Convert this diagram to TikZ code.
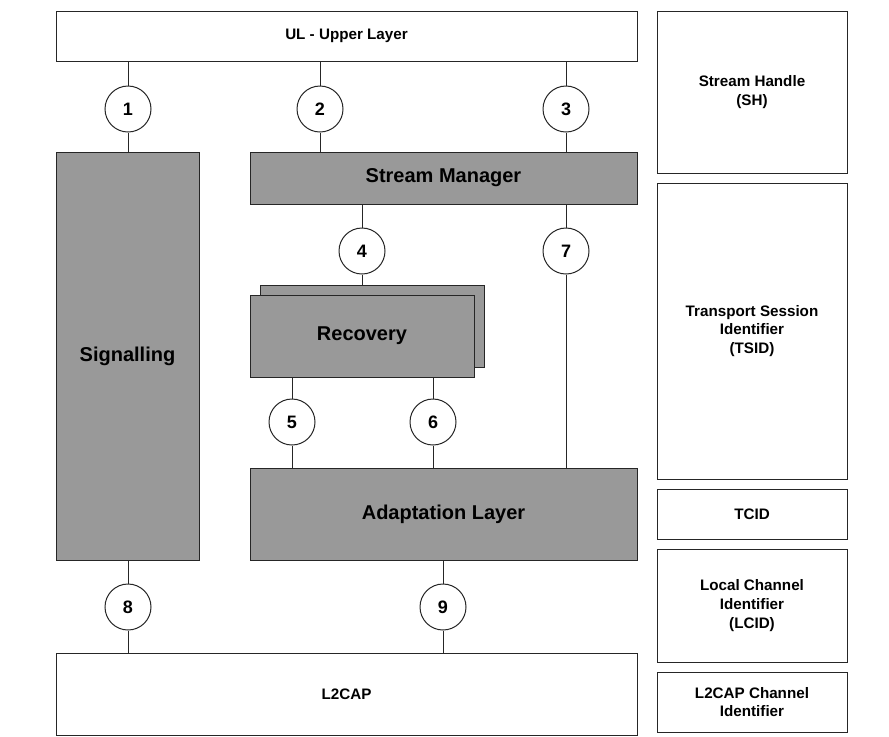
\documentclass[tikz,border=0pt]{standalone}
\usepackage{fontspec}
\setmainfont{Liberation Sans}
\usetikzlibrary{positioning,calc}

\tikzset{
  layer/.style={draw=black!85,line width=0.5pt,fill=white,align=center,
    font=\fontsize{7.6}{9.4}\selectfont\bfseries,inner sep=0pt},
  block/.style={layer,fill=black!40,font=\fontsize{10}{12}\selectfont\bfseries},
  port/.style={circle,draw=black!85,line width=0.5pt,fill=white,minimum size=23pt,
    inner sep=0pt,font=\fontsize{9}{10}\selectfont\bfseries},
  idbox/.style={layer,minimum width=95pt},
}

\begin{document}
\begin{tikzpicture}[x=0.5pt,y=-0.5pt]
  \useasboundingbox (0,0) rectangle (889,736);
  % layers
  \node[layer,minimum width=290.5pt,minimum height=25pt] (ul) at (346.5,36) {UL - Upper Layer};
  \node[layer,minimum width=290.5pt,minimum height=41pt] (l2cap) at (346.5,694) {L2CAP};
  \node[block,minimum width=71.5pt,minimum height=204pt] (sig) at (127.5,356) {Signalling};
  \node[block,minimum width=193.5pt,minimum height=26pt] (sm) at (443.5,178) {Stream Manager};
  \node[block,minimum width=112pt,minimum height=41pt] (recback) at (372,326) {};
  \node[block,minimum width=112pt,minimum height=41pt] (rec) at (362,336) {Recovery};
  \node[block,minimum width=193.5pt,minimum height=46pt] (al) at (443.5,514) {Adaptation Layer};
  % identifiers
  \node[idbox,minimum height=81pt]   (sh)   at (752,92)    {Stream Handle\\(SH)};
  \node[idbox,minimum height=148pt]  (tsid) at (752,331)   {Transport Session\\Identifier\\(TSID)};
  \node[idbox,minimum height=25pt]   (tcid) at (752,514)   {TCID};
  \node[idbox,minimum height=56.5pt] (lcid) at (752,605.5) {Local Channel\\Identifier\\(LCID)};
  \node[idbox,minimum height=30pt]   (cid)  at (752,702)   {L2CAP Channel\\Identifier};
  % interfaces
  \node[port] (p1) at (128,109) {1};
  \node[port] (p2) at (320,109) {2};
  \node[port] (p3) at (566,109) {3};
  \node[port] (p4) at (362,251) {4};
  \node[port] (p7) at (566,251) {7};
  \node[port] (p5) at (292,422) {5};
  \node[port] (p6) at (433,422) {6};
  \node[port] (p8) at (128,607) {8};
  \node[port] (p9) at (443,607) {9};
  \begin{scope}[every path/.style={draw=black!85,line width=0.5pt}]
    \foreach \p/\a/\b in {p1/ul/sig,p2/ul/sm,p3/ul/sm,p4/sm/recback,
                          p5/rec/al,p6/rec/al,p8/sig/l2cap,p9/al/l2cap}{
      \draw (\p.north) -- (\p.north |- \a.south);
      \draw (\p.south) -- (\p.south |- \b.north);
    }
    \draw (p7.north) -- (p7.north |- sm.south);
    \draw (p7.south) -- (p7.south |- al.north);
  \end{scope}
\end{tikzpicture}
\end{document}
